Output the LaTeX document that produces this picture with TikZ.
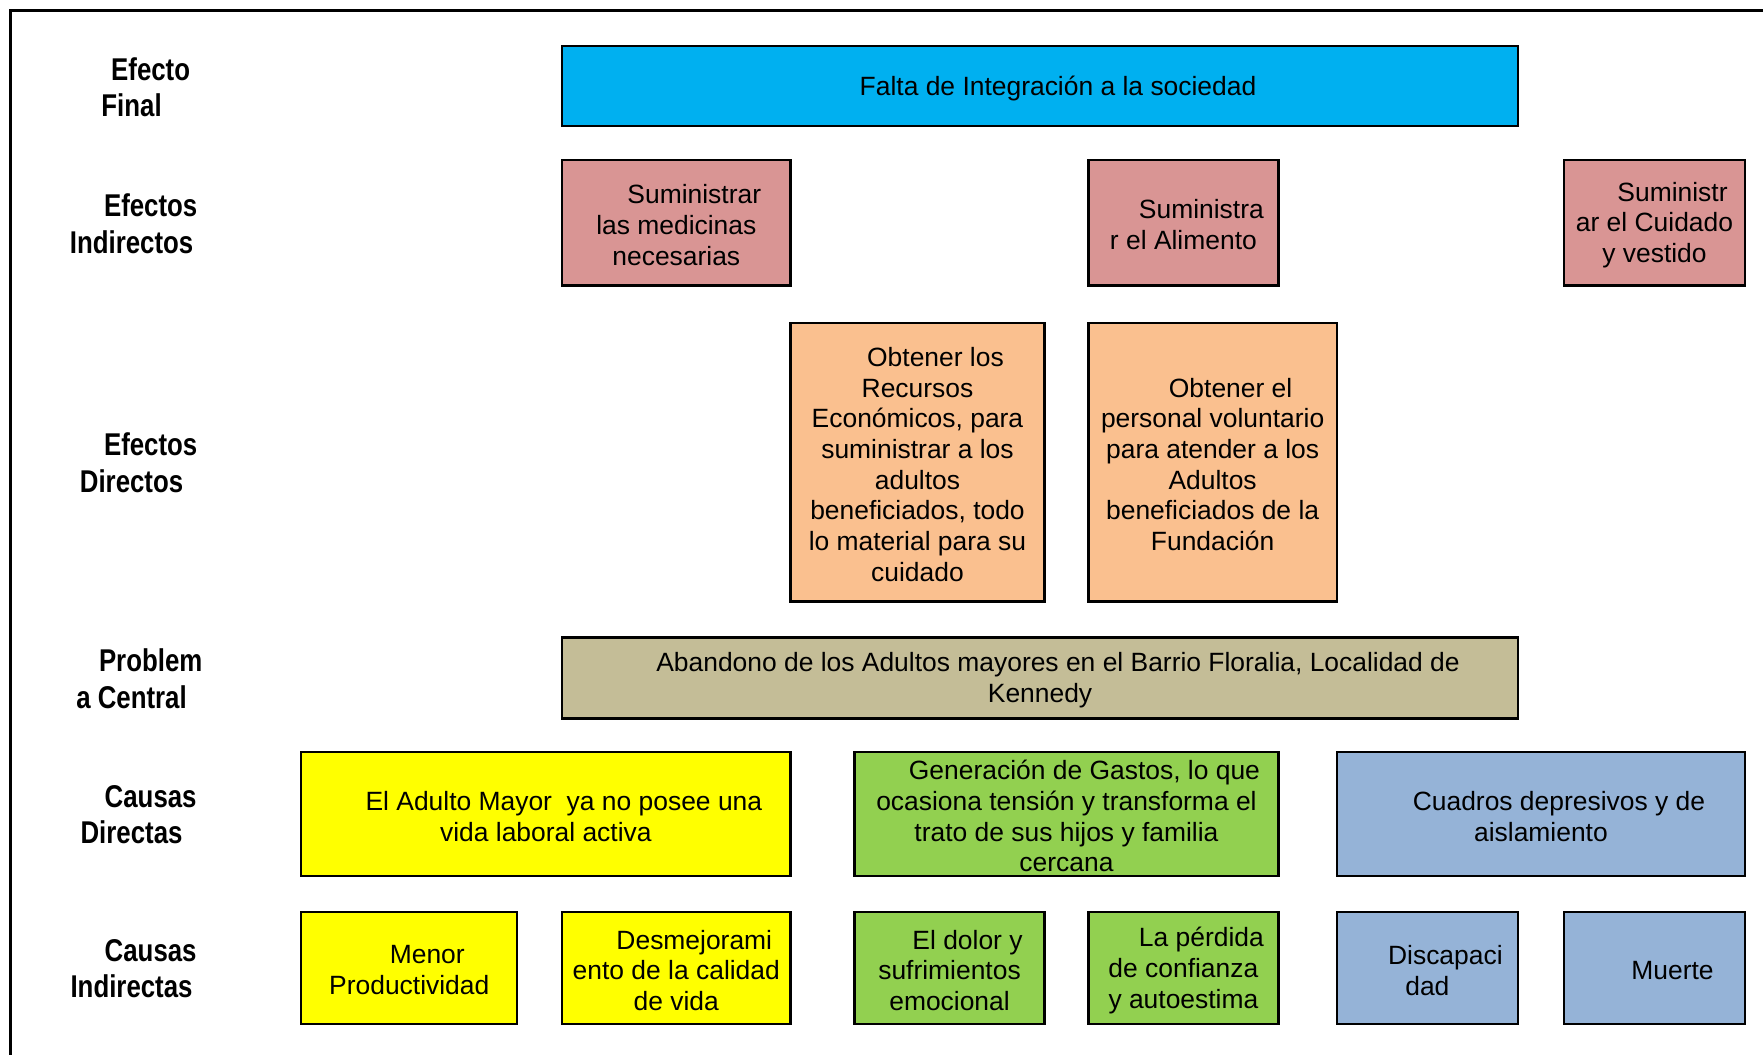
\documentclass[tikz,border=0pt]{standalone}
\usepackage{fontspec}
\usetikzlibrary{fit}
\newfontfamily\boxfont{Liberation Sans}
\newfontfamily\labfont[FakeStretch=0.82]{Liberation Sans}
\definecolor{cblue}{HTML}{00B0F0}
\definecolor{cpink}{HTML}{D99594}
\definecolor{corange}{HTML}{FAC08F}
\definecolor{ctan}{HTML}{C4BD97}
\definecolor{cyellow}{HTML}{FFFF00}
\definecolor{cgreen}{HTML}{92D050}
\definecolor{csteel}{HTML}{95B3D7}
\tikzset{
  boxframe/.style={draw=black, line width=1pt, inner sep=0pt, rectangle},
  boxtext/.style={align=center, inner sep=0pt, yshift=-1pt, font=\boxfont\fontsize{11.75pt}{13.65pt}\selectfont},
  rowlabel/.style={align=center, inner sep=0pt, font=\labfont\bfseries\fontsize{14pt}{16.3pt}\selectfont},
}
\newcommand\ind{\hspace*{16pt}}
\newcommand\lind{\hspace*{17pt}}
\newcommand\mkbox[7]{%
  \node[boxframe, fill=#6, fit={(#2,#3) (#4,#5)}] (#1) {};
  \node[boxtext] (#1t) at (#1.center) {#7};
}
\begin{document}
\begin{tikzpicture}[x=0.5pt,y=-0.5pt]
\useasboundingbox (0,0) rectangle (1568,938);
% frame
\coordinate (fr1) at (1568,9);
\coordinate (fr2) at (9,9);
\coordinate (fr3) at (9,938);
\draw[line width=1.35pt] (fr1) -- (fr2) -- (fr3);
% row labels
\node[rowlabel] (l1) at (117,77.5) {\lind Efecto\\Final};
\node[rowlabel] (l2) at (117,199) {\lind Efectos\\Indirectos};
\node[rowlabel] (l3) at (117,411.5) {\lind Efectos\\Directos};
\node[rowlabel] (l4) at (117,603.5) {\lind Problem\\a Central};
\node[rowlabel] (l5) at (117,724.5) {\lind Causas\\Directas};
\node[rowlabel] (l6) at (117,861.5) {\lind Causas\\Indirectas};
% boxes
\mkbox{ef}{500}{41}{1350}{112}{cblue}{\ind Falta de Integración a la sociedad}
\mkbox{ei1}{500}{142}{703}{254}{cpink}{\ind Suministrar\\las medicinas\\necesarias}
\mkbox{ei2}{968}{142}{1137}{254}{cpink}{\ind Suministra\\r el Alimento}
\mkbox{ei3}{1391}{142}{1552}{254}{cpink}{\ind Suministr\\ar el Cuidado\\y vestido}
\mkbox{ed1}{703}{287}{929}{535}{corange}{\ind Obtener los\\Recursos\\Económicos, para\\suministrar a los\\adultos\\beneficiados, todo\\lo material para su\\cuidado}
\mkbox{ed2}{968}{287}{1189}{535}{corange}{\ind Obtener el\\personal voluntario\\para atender a los\\Adultos\\beneficiados de la\\Fundación}
\mkbox{pc}{500}{567}{1350}{639}{ctan}{\ind Abandono de los Adultos mayores en el Barrio Floralia, Localidad de\\Kennedy}
\mkbox{cd1}{268}{669}{703}{779}{cyellow}{\ind El Adulto Mayor \ ya no posee una\\vida laboral activa}
\mkbox{cd2}{760}{669}{1137}{779}{cgreen}{\ind Generación de Gastos, lo que\\ocasiona tensión y transforma el\\trato de sus hijos y familia\\cercana}
\mkbox{cd3}{1189}{669}{1552}{779}{csteel}{\ind Cuadros depresivos y de\\aislamiento}
\mkbox{ci1}{268}{811}{460}{911}{cyellow}{\ind Menor\\Productividad}
\mkbox{ci2}{500}{811}{703}{911}{cyellow}{\ind Desmejorami\\ento de la calidad\\de vida}
\mkbox{ci3}{760}{811}{929}{911}{cgreen}{\ind El dolor y\\sufrimientos\\emocional}
\mkbox{ci4}{968}{811}{1137}{911}{cgreen}{\ind La pérdida\\de confianza\\y autoestima}
\mkbox{ci5}{1189}{811}{1350}{911}{csteel}{\ind Discapaci\\dad}
\mkbox{ci6}{1391}{811}{1552}{911}{csteel}{\ind Muerte}
\end{tikzpicture}
\end{document}
